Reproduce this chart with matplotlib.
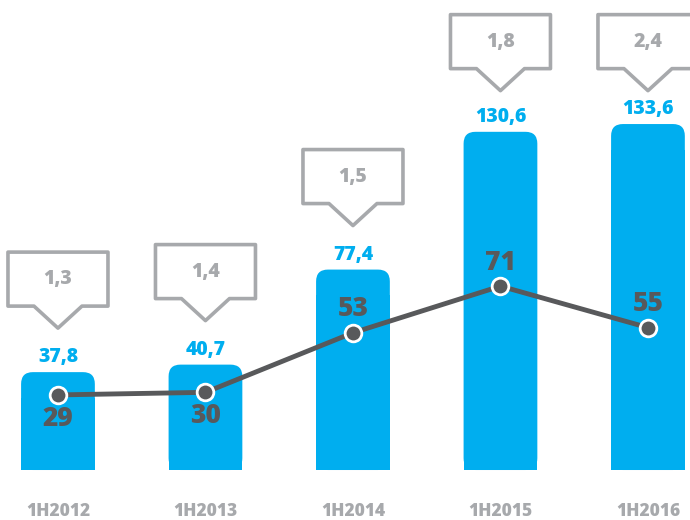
import numpy as np
import matplotlib.pyplot as plt
from matplotlib.patches import FancyBboxPatch, Rectangle, Polygon
from matplotlib.transforms import ScaledTranslation

plt.rcParams['font.family'] = ['Open Sans', 'DejaVu Sans']
WEIGHT = "heavy"

# Dane
periods = ["1H2012", "1H2013", "1H2014", "1H2015", "1H2016"]
bar_values = [37.8, 40.7, 77.4, 130.6, 133.6]
bar_labels = ["37,8", "40,7", "77,4", "130,6", "133,6"]
line_values = [29, 30, 53, 71, 55]
line_labels = ["29", "30", "53", "71", "55"]
callout_labels = ["1,3", "1,4", "1,5", "1,8", "2,4"]

BLUE = "#00AEEF"
DARK = "#58595B"
GREY = "#A7A9AC"

fig = plt.figure(figsize=(6.9, 5.2), dpi=100)
ax = fig.add_axes([0, 0, 1, 1])
ax.set_xlim(-0.393, 4.285)
ax.set_ylim(-19.3, 181.5)
ax.axis("off")

x = np.arange(len(periods))
width = 0.5

# Slupki z zaokraglonymi gornymi rogami
for xi, h in zip(x, bar_values):
    rounded = FancyBboxPatch((xi - width / 2, 0), width, h,
                             boxstyle="round,pad=0,rounding_size=0.08",
                             mutation_aspect=57, fc=BLUE, ec="none", zorder=1)
    ax.add_patch(rounded)
    ax.add_patch(Rectangle((xi - width / 2, 0), width, h - 10, fc=BLUE, ec="none", zorder=1))

# Wartosci nad slupkami
for xi, h, lab in zip(x, bar_values, bar_labels):
    ax.annotate(lab, (xi, h), xytext=(0, 7), textcoords="offset points",
                ha="center", va="baseline", fontsize=14, fontweight=WEIGHT, color=BLUE)

# Linia
ax.plot(x, line_values, color=DARK, lw=3.5, zorder=3,
        marker="o", markersize=12, markerfacecolor=DARK,
        markeredgecolor="white", markeredgewidth=2)

for xi, v, h, lab in zip(x, line_values, bar_values, line_labels):
    dy = -17 if h - v < 15 else 17
    ax.annotate(lab, (xi, v), xytext=(0, dy), textcoords="offset points",
                ha="center", va="center", fontsize=19, fontweight=WEIGHT, color=DARK, zorder=4)

# Dymki (wymiary w calach)
w, bh, depth, half = 1.0, 0.54, 0.22, 0.24
shape = [(0, 0), (-half, depth), (-w / 2, depth), (-w / 2, depth + bh),
         (w / 2, depth + bh), (w / 2, depth), (half, depth)]
for xi, h, lab in zip(x, bar_values, callout_labels):
    tip = min(h + 17, 146.5)
    tr = fig.dpi_scale_trans + ScaledTranslation(xi, tip, ax.transData)
    ax.add_patch(Polygon(shape, closed=True, transform=tr, fc="white", ec=GREY,
                         lw=2.6, joinstyle="round", zorder=2, clip_on=False))
    ax.text(0, depth + bh / 2, lab, transform=tr, ha="center", va="center",
            fontsize=14, fontweight=WEIGHT, color=GREY)

# Etykiety osi X
for xi, p in zip(x, periods):
    ax.text(xi, -16.2, p, ha="center", va="center", fontsize=12.5,
            fontweight=WEIGHT, color=GREY)

plt.savefig("out.png", dpi=100)
